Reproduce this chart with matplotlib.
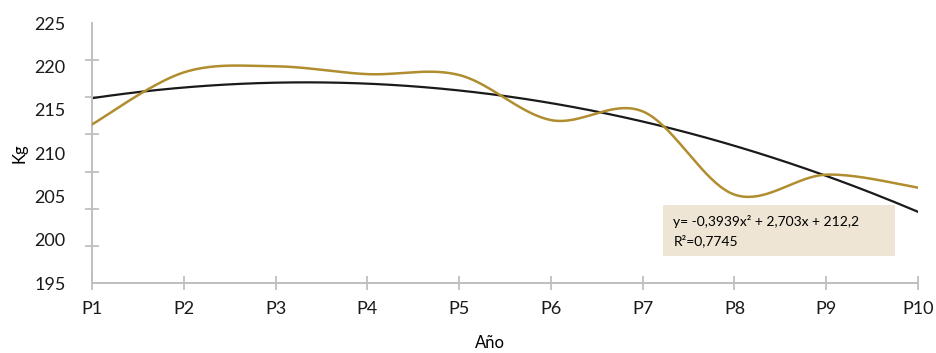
import numpy as np
import matplotlib
matplotlib.use('Agg')
import matplotlib.pyplot as plt
from matplotlib.ticker import FixedLocator, NullFormatter

# Datos
periodos = ['P1', 'P2', 'P3', 'P4', 'P5', 'P6', 'P7', 'P8', 'P9', 'P10']
kg = [213.3, 219.3, 220.0, 219.1, 219.0, 213.8, 214.8, 205.2, 207.5, 206.0]
y_labels = [195, 200, 205, 210, 215, 220, 225]
ecuacion = 'y= -0,3939x\u00b2 + 2,703x + 212,2'
r2 = 'R\u00b2=0,7745'

plt.rcParams['font.family'] = ['Lato', 'DejaVu Sans']


def catmull_rom(x, y, n=40):
    """Curva suavizada tipo Excel (Catmull-Rom)"""
    pts = np.column_stack([x, y]).astype(float)
    out = []
    for i in range(len(pts) - 1):
        p0 = pts[i - 1] if i > 0 else pts[i]
        p1 = pts[i]
        p2 = pts[i + 1]
        p3 = pts[i + 2] if i + 2 < len(pts) else pts[i + 1]
        t = np.linspace(0, 1, n)[:, None]
        seg = 0.5 * ((2 * p1) + (-p0 + p2) * t +
                     (2 * p0 - 5 * p1 + 4 * p2 - p3) * t ** 2 +
                     (-p0 + 3 * p1 - 3 * p2 + p3) * t ** 3)
        out.append(seg if i == 0 else seg[1:])
    out = np.vstack(out)
    return out[:, 0], out[:, 1]


x = np.arange(len(periodos))
fig = plt.figure(figsize=(9.37, 3.53), dpi=100)
ax = fig.add_axes([92 / 937, 1 - 283 / 353, (918 - 92) / 937, (283 - 23) / 353])

# Serie suavizada
xs, ys = catmull_rom(x, kg)
ax.plot(xs, ys, color='#B08D2F', lw=1.8, zorder=3)

# Tendencia polinomica de orden 2
coef = np.polyfit(x + 1, kg, 2)
xt = np.linspace(0, len(periodos) - 1, 200)
ax.plot(xt, np.polyval(coef, xt + 1), color='#1a1a1a', lw=1.6, zorder=2)

ax.set_xlim(0, len(periodos) - 1)
ax.set_ylim(195, 225)

# Etiquetas del eje Y (sin marcas) y marcas separadas
ax.yaxis.set_major_locator(FixedLocator(y_labels))
ax.yaxis.set_minor_locator(FixedLocator(list(np.linspace(195, 225, 8))))
ax.yaxis.set_minor_formatter(NullFormatter())
ax.tick_params(axis='y', which='major', length=0, pad=19, labelsize=13, labelcolor='#1a1a1a')
ax.tick_params(axis='y', which='minor', direction='inout', length=9.5, width=1.3, color='#BFBFBF')

ax.set_xticks(x)
ax.set_xticklabels(periodos)
ax.tick_params(axis='x', direction='inout', length=10, width=1.3, color='#BFBFBF',
               pad=8, labelsize=13, labelcolor='#1a1a1a')

for s in ['top', 'right']:
    ax.spines[s].set_visible(False)
for s in ['left', 'bottom']:
    ax.spines[s].set_color('#BFBFBF')
    ax.spines[s].set_linewidth(1.4)

ax.set_ylabel('Kg', fontsize=12, labelpad=5)
fig.text(490 / 937, 1 - 343 / 353, 'A\u00f1o', fontsize=12, ha='center', va='center')

# Cuadro de la ecuacion
box_ax = fig.add_axes([663 / 937, 1 - 256 / 353, (895 - 663) / 937, (256 - 205) / 353])
box_ax.set_facecolor('#EEE5D4')
box_ax.set_xticks([])
box_ax.set_yticks([])
for s in box_ax.spines.values():
    s.set_visible(False)
box_ax.text(0.045, 0.68, ecuacion, fontsize=10, va='center', ha='left', transform=box_ax.transAxes)
box_ax.text(0.045, 0.30, r2, fontsize=10, va='center', ha='left', transform=box_ax.transAxes)

fig.savefig('out.png', dpi=100)
